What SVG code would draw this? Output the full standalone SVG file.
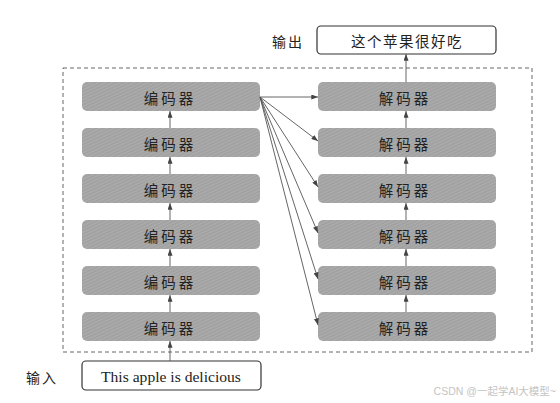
<svg xmlns="http://www.w3.org/2000/svg" width="560" height="403" viewBox="0 0 560 403">
  <defs>
    <pattern id="hatch" width="3" height="3" patternUnits="userSpaceOnUse" patternTransform="rotate(-25)">
      <rect width="3" height="3" fill="#adadad"/>
      <line x1="0" y1="1" x2="3" y2="1" stroke="#919191" stroke-width="0.8"/>
    </pattern>
    <marker id="arr" viewBox="0 0 8 6" refX="8" refY="3" markerWidth="7" markerHeight="5" orient="auto" markerUnits="userSpaceOnUse">
      <path d="M0,0 L8,3 L0,6 Z" fill="#444"/>
    </marker>
  </defs>
  <style>
    .blk { fill: url(#hatch); stroke: none; }
    .io { fill: #fff; stroke: #333; stroke-width: 1.2; }
    .cjk { font-family: "Noto Sans CJK SC", "Noto Sans", sans-serif; font-size: 14.5px; fill: #222; text-anchor: middle; dominant-baseline: central; }
    .lbl { font-family: "Noto Sans CJK SC", "Noto Sans", sans-serif; font-size: 14px; fill: #222; text-anchor: middle; dominant-baseline: central; letter-spacing: 2px; }
    .en { font-family: "Liberation Serif", "Times New Roman", serif; font-size: 15.6px; fill: #222; text-anchor: middle; dominant-baseline: central; }
    .wm { font-family: "Liberation Sans", Arial, "Noto Sans CJK SC", sans-serif; font-size: 10.5px; fill: #c4c4c4; text-anchor: end; }
    .c { stroke: #555; stroke-width: 0.9; fill: none; marker-end: url(#arr); }
  </style>
  <rect width="560" height="403" fill="#fff"/>

  <g id="container">
    <rect x="63" y="68" width="469" height="284" fill="none" stroke="#555" stroke-width="0.9" stroke-dasharray="4 3"/>
  </g>

  <g id="output-label"><text class="lbl" x="288" y="41">输出</text></g>
  <g id="output">
    <rect class="io" x="317" y="26" width="179" height="28" rx="4"/>
    <text class="cjk" x="407" y="40" style="letter-spacing:1.5px">这个苹果很好吃</text>
  </g>

  <g id="input-label"><text class="lbl" x="42" y="377">输入</text></g>
  <g id="input">
    <rect class="io" x="82" y="361" width="179" height="29" rx="4"/>
    <text class="en" x="171" y="376">This apple is delicious</text>
  </g>

  <g id="enc1"><rect class="blk" x="82" y="82" width="178" height="29" rx="5"/><text class="cjk" x="170" y="97" style="letter-spacing:3px">编码器</text></g>
  <g id="enc2"><rect class="blk" x="82" y="128" width="178" height="29" rx="5"/><text class="cjk" x="170" y="143" style="letter-spacing:3px">编码器</text></g>
  <g id="enc3"><rect class="blk" x="82" y="174" width="178" height="29" rx="5"/><text class="cjk" x="170" y="189" style="letter-spacing:3px">编码器</text></g>
  <g id="enc4"><rect class="blk" x="82" y="220" width="178" height="29" rx="5"/><text class="cjk" x="170" y="235" style="letter-spacing:3px">编码器</text></g>
  <g id="enc5"><rect class="blk" x="82" y="266" width="178" height="29" rx="5"/><text class="cjk" x="170" y="281" style="letter-spacing:3px">编码器</text></g>
  <g id="enc6"><rect class="blk" x="82" y="312" width="178" height="29" rx="5"/><text class="cjk" x="170" y="327" style="letter-spacing:3px">编码器</text></g>

  <g id="dec1"><rect class="blk" x="318" y="82" width="178" height="29" rx="5"/><text class="cjk" x="405" y="97" style="letter-spacing:3px">解码器</text></g>
  <g id="dec2"><rect class="blk" x="318" y="128" width="178" height="29" rx="5"/><text class="cjk" x="405" y="143" style="letter-spacing:3px">解码器</text></g>
  <g id="dec3"><rect class="blk" x="318" y="174" width="178" height="29" rx="5"/><text class="cjk" x="405" y="189" style="letter-spacing:3px">解码器</text></g>
  <g id="dec4"><rect class="blk" x="318" y="220" width="178" height="29" rx="5"/><text class="cjk" x="405" y="235" style="letter-spacing:3px">解码器</text></g>
  <g id="dec5"><rect class="blk" x="318" y="266" width="178" height="29" rx="5"/><text class="cjk" x="405" y="281" style="letter-spacing:3px">解码器</text></g>
  <g id="dec6"><rect class="blk" x="318" y="312" width="178" height="29" rx="5"/><text class="cjk" x="405" y="327" style="letter-spacing:3px">解码器</text></g>

  <g id="connectors">
    <line class="c" x1="170" y1="361" x2="170" y2="341"/>
    <line class="c" x1="170" y1="312" x2="170" y2="295"/>
    <line class="c" x1="170" y1="266" x2="170" y2="249"/>
    <line class="c" x1="170" y1="220" x2="170" y2="203"/>
    <line class="c" x1="170" y1="174" x2="170" y2="157"/>
    <line class="c" x1="170" y1="128" x2="170" y2="111"/>
    <line class="c" x1="406" y1="312" x2="406" y2="295"/>
    <line class="c" x1="406" y1="266" x2="406" y2="249"/>
    <line class="c" x1="406" y1="220" x2="406" y2="203"/>
    <line class="c" x1="406" y1="174" x2="406" y2="157"/>
    <line class="c" x1="406" y1="128" x2="406" y2="111"/>
    <line class="c" x1="406" y1="82" x2="406" y2="54"/>
    <line class="c" x1="260" y1="97" x2="318" y2="97"/>
    <line class="c" x1="260" y1="97" x2="318" y2="141"/>
    <line class="c" x1="260" y1="97" x2="318" y2="187"/>
    <line class="c" x1="260" y1="97" x2="318" y2="233"/>
    <line class="c" x1="260" y1="97" x2="318" y2="279"/>
    <line class="c" x1="260" y1="97" x2="318" y2="325"/>
  </g>

  <text class="wm" x="556" y="395">CSDN @一起学AI大模型~</text>
</svg>
